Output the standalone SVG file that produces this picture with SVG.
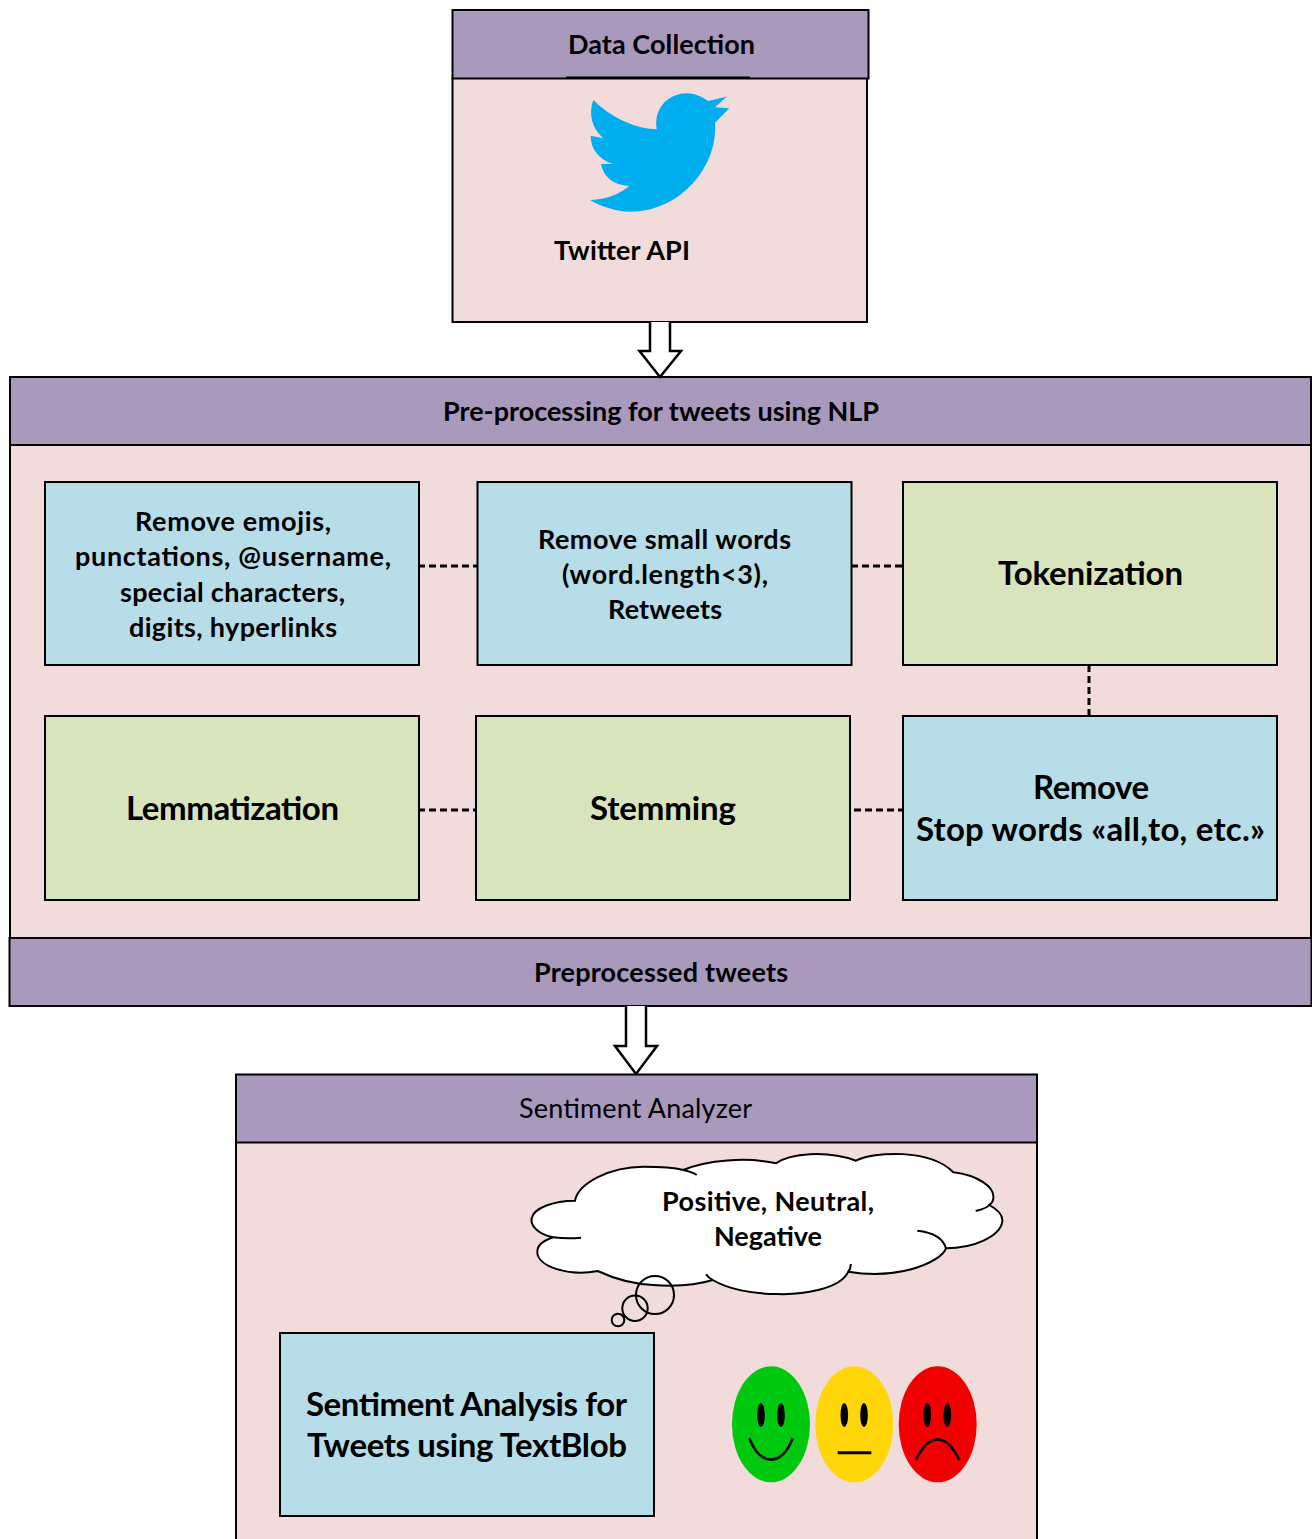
<svg xmlns="http://www.w3.org/2000/svg" width="1312" height="1539" viewBox="0 0 1312 1539">
<style>
text{font-family:Lato,"Open Sans","Liberation Sans",sans-serif;font-weight:700;fill:#000;text-anchor:middle}
.b{stroke:#000;stroke-width:2}
.pink{fill:#f2dcdb}.pur{fill:#a99abd}.blue{fill:#b7dde8}.green{fill:#d8e4bc}
.t27{font-size:27px}.t33{font-size:33px}
.dash{fill:none;stroke:#000;stroke-width:3;stroke-dasharray:7 4}
.arrow{fill:#fff;stroke:#000;stroke-width:2.5}
.cl{fill:#fff;stroke:#000;stroke-width:2}
.ln{fill:none;stroke:#000;stroke-width:2}
</style>
<rect width="1312" height="1539" fill="#fff"/>
<g id="data-collection">
<rect class="b pink" x="452.500" y="78" width="414.500" height="244"/>
<rect class="b pur" x="452.500" y="10" width="416" height="68.500"/>
<path d="M566 77.500H750" stroke="#000" stroke-width="2"/>
<text class="t27" x="661.500" y="54" textLength="187">Data Collection</text>
<path d="M593.300 100C610 116.700 633.300 128.300 656.700 129.300C653.300 106.700 670 93.300 686.700 93.300C696.700 93.300 703.300 98.300 708.300 101L726.700 96.700L715 107.300L729.300 108.300L715 122.700C718.300 166.700 680 211.700 630 211.700C616.700 211.700 601.700 206.700 590 200C603.300 200 618.300 195 629.300 186C613.300 185 603.300 176.700 601 164L613.300 164C600 160 590.700 150 590.700 135.700L603.300 138.300C591.700 128.300 588.300 113.300 593.300 100Z" fill="#00adee"/>
<text class="t27" x="622" y="260" textLength="136">Twitter API</text>
</g>
<g id="preprocessing">
<rect class="b pink" x="10" y="445" width="1301" height="493"/>
<rect class="b pur" x="10" y="377" width="1301" height="68"/>
<text class="t27" x="661" y="421" textLength="436">Pre-processing for tweets using NLP</text>
</g>
<g id="preprocessed">
<rect class="b pur" x="9.500" y="938" width="1302" height="68"/>
<text class="t27" x="661" y="982" textLength="254">Preprocessed tweets</text>
</g>
<g id="sentiment-analyzer">
<rect class="b pink" x="236" y="1142" width="801" height="410"/>
<rect class="b pur" x="236" y="1074.500" width="801" height="68"/>
<text class="t27" x="635.500" y="1118" textLength="233" style="font-weight:400">Sentiment Analyzer</text>
</g>
<g id="remove-emojis">
<rect class="b blue" x="45" y="482" width="374" height="183"/>
<text class="t27" x="233" y="531" textLength="196">Remove emojis,</text>
<text class="t27" x="233" y="566" textLength="316">punctations, @username,</text>
<text class="t27" x="232.500" y="602" textLength="225">special characters,</text>
<text class="t27" x="233" y="637" textLength="208">digits, hyperlinks</text>
</g>
<g id="remove-small">
<rect class="b blue" x="477.500" y="482" width="374" height="183"/>
<text class="t27" x="664.500" y="549" textLength="253">Remove small words</text>
<text class="t27" x="665" y="584" textLength="206">(word.length&lt;3),</text>
<text class="t27" x="665" y="619" textLength="114">Retweets</text>
</g>
<g id="tokenization">
<rect class="b green" x="903" y="482" width="374" height="183"/>
<text class="t33" x="1090.500" y="585" textLength="185">Tokenization</text>
</g>
<g id="lemmatization">
<rect class="b green" x="45" y="716" width="374" height="184"/>
<text class="t33" x="232.500" y="820" textLength="213">Lemmatization</text>
</g>
<g id="stemming">
<rect class="b green" x="476" y="716" width="374" height="184"/>
<text class="t33" x="663" y="820" textLength="146">Stemming</text>
</g>
<g id="remove-stop">
<rect class="b blue" x="903" y="716" width="374" height="184"/>
<text class="t33" x="1091" y="799" textLength="116">Remove</text>
<text class="t33" x="1090.500" y="841" textLength="349">Stop words «all,to, etc.»</text>
</g>
<g id="connectors">
<path class="dash" d="M418 566H478"/>
<path class="dash" d="M851 566H903"/>
<path class="dash" d="M1089 665V716"/>
<path class="dash" d="M418 810H476"/>
<path class="dash" d="M854 810H903"/>
<path class="arrow" d="M650 322V351H639.500L660 377L681 351H670V322"/>
<path class="arrow" d="M626 1006V1046H615L636 1074L657 1046H646V1006"/>
</g>
<g id="thought-cloud">
<path class="cl" d="M575 1200.700C578.300 1183.300 610 1166.700 643.300 1166.700C660 1166.700 676.700 1168.300 683.300 1170C706.700 1160 746.700 1156.700 776 1163.300C790 1153.300 826.700 1150 856 1160.700C873.300 1151.700 930 1148.300 953.300 1172.300C976.700 1175 995 1186.700 993.300 1198.300C993.300 1201.700 991.700 1203.300 989.300 1205C998.300 1210 1003.300 1215 1002.300 1221.700C1000 1236.700 973.300 1248.300 946 1248.300C940 1263.300 896.700 1280 848.300 1271.700C840 1290 800 1295 776.700 1294C750 1294 726.700 1288.300 712.700 1280C696.700 1285 676.700 1286.700 653.300 1285C633.300 1284 613.300 1278.300 597.700 1271C570 1276.700 536.700 1266.700 537.300 1251.700C537.300 1245 545 1240 553.300 1237.300C540 1235 530 1226.700 531.700 1218.300C533.300 1208.300 553.300 1200.700 575 1200.700Z"/>
<path class="ln" d="M683.300 1170Q691.700 1171.700 696.700 1175M553.300 1237.300Q566.700 1239 581 1237.700M917.300 1230.700Q941.700 1233.300 946 1248.300M975.700 1211Q986.700 1208.300 989.300 1205M706 1274.300Q708.300 1277.300 712.700 1280M848.300 1271.700Q851 1268.300 850.700 1264"/>
<circle class="ln" cx="655" cy="1295" r="19"/>
<circle class="ln" cx="635" cy="1308.300" r="12.700"/>
<circle class="ln" cx="618" cy="1320" r="6.300"/>
<text class="t27" x="768" y="1211" textLength="212">Positive, Neutral,</text>
<text class="t27" x="768" y="1246" textLength="108">Negative</text>
</g>
<g id="textblob">
<rect class="b blue" x="280" y="1333" width="374" height="183"/>
<text class="t33" x="466.500" y="1416" textLength="321">Sentiment Analysis for</text>
<text class="t33" x="467" y="1457" textLength="320">Tweets using TextBlob</text>
</g>
<g id="smileys">
<ellipse cx="771" cy="1424.300" rx="39" ry="58" fill="#00c80f"/>
<ellipse cx="761" cy="1415" rx="3.800" ry="12"/><ellipse cx="781" cy="1415" rx="3.800" ry="12"/>
<path d="M749.300 1438.300C755 1453 763 1459.500 771 1459.500C780 1459.500 787 1453 792.700 1438.300" fill="none" stroke="#000" stroke-width="2.500"/>
<ellipse cx="854.300" cy="1424.300" rx="39" ry="58" fill="#ffd60a"/>
<ellipse cx="844.300" cy="1415" rx="3.800" ry="12"/><ellipse cx="864" cy="1415" rx="3.800" ry="12"/>
<path d="M837.700 1452.700H871.300" stroke="#000" stroke-width="3"/>
<ellipse cx="937.700" cy="1424.300" rx="39" ry="58" fill="#f00000"/>
<ellipse cx="927.300" cy="1415" rx="3.800" ry="12"/><ellipse cx="947.300" cy="1415" rx="3.800" ry="12"/>
<path d="M916 1460C922 1447 930 1439.500 937.700 1439.500C945 1439.500 953 1447 959.300 1460" fill="none" stroke="#000" stroke-width="2.500"/>
</g>
</svg>
